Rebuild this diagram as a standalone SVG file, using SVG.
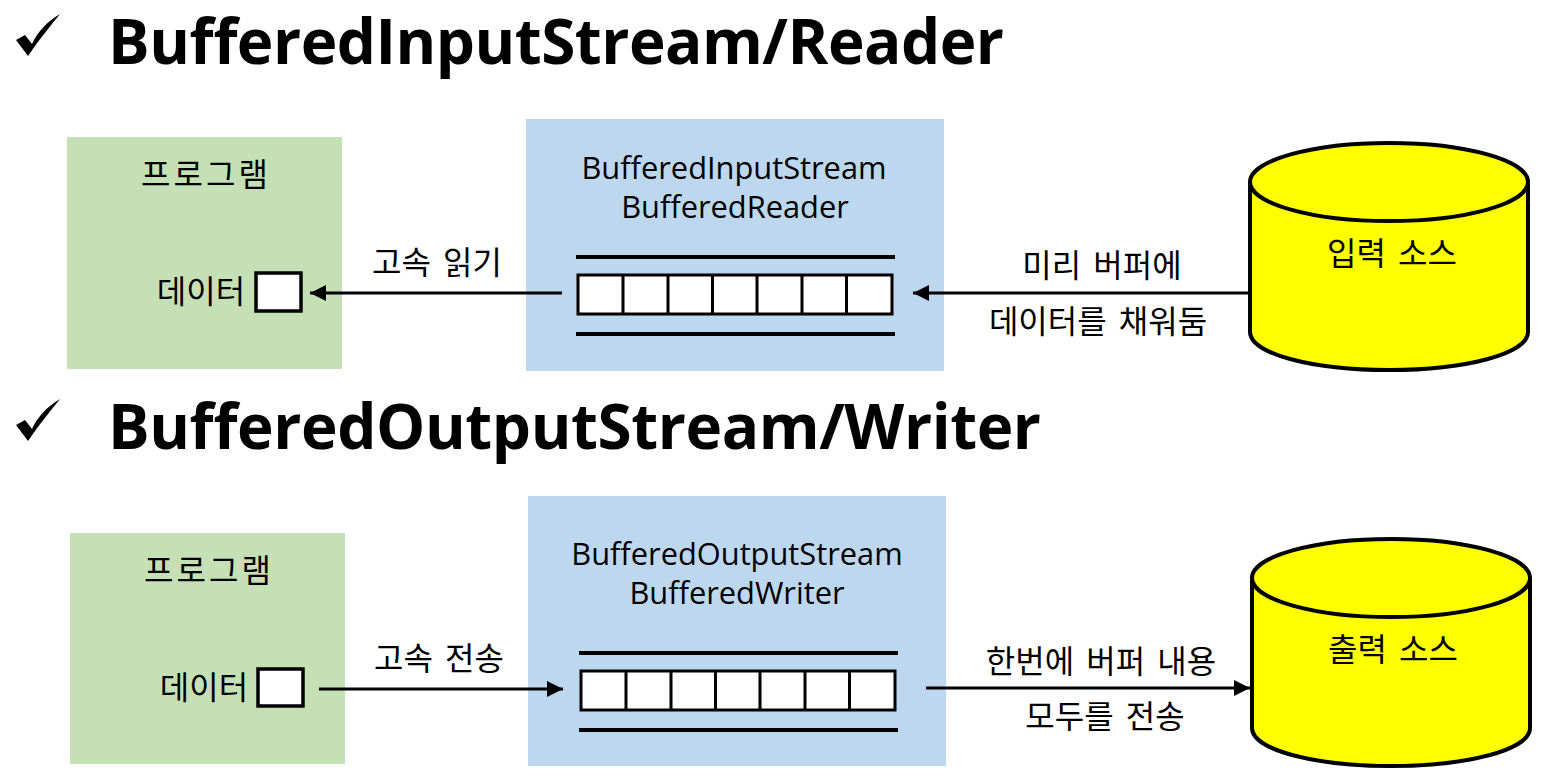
<svg xmlns="http://www.w3.org/2000/svg" width="1551" height="780" viewBox="0 0 1551 780">
<style>
text{font-family:"Open Sans","Noto Sans CJK KR","Noto Sans",sans-serif;fill:#000}
.t{font-size:62px;font-weight:700}
.l{font-size:30.8px;text-anchor:middle}
.ko{font-family:"Noto Sans CJK KR",sans-serif;font-size:32px;text-anchor:middle;word-spacing:5px}
.wide{letter-spacing:3px}
.g{fill:#c5e0b4}.b{fill:#bdd7ee}
.box{fill:#fff;stroke:#000;stroke-width:3.5}
.ln{stroke:#000;stroke-width:3;fill:none}
.hv{stroke:#000;stroke-width:4;fill:none}
.cyl{fill:#ff0;stroke:#000;stroke-width:4}
</style>
<defs>
<marker id="a" markerWidth="17" markerHeight="16" refX="16" refY="8" orient="auto" markerUnits="userSpaceOnUse"><path d="M0 0L16 8L0 16Z" fill="#000"/></marker>
<g id="buf">
<path class="hv" d="M0 0H319M0 77H319"/>
<rect class="box" x="2" y="18" width="314" height="39" style="stroke-width:3"/>
<path class="ln" d="M47 18V57M92 18V57M136.500 18V57M181 18V57M226 18V57M270.500 18V57"/>
</g>
<path id="ck" d="M60 14C52 24 41 37 28 56L16 40L25 35L32 44C38 31 47 22 60 14Z" fill="#000"/>
</defs>
<g id="title1"><use href="#ck"/><text class="t" x="108" y="64" textLength="896" lengthAdjust="spacing">BufferedInputStream/Reader</text></g>
<g id="title2"><use href="#ck" y="385"/><text class="t" x="108" y="449" textLength="933" lengthAdjust="spacing">BufferedOutputStream/Writer</text></g>
<g id="prog1"><rect class="g" x="67" y="137" width="275" height="232"/><text class="ko wide" x="206" y="186">프로그램</text><text class="ko" x="201" y="303">데이터</text><rect class="box" x="256" y="273" width="45" height="38"/></g>
<g id="buf1"><rect class="b" x="526" y="119" width="418" height="252"/><text class="l" x="734" y="179">BufferedInputStream</text><text class="l" x="735" y="218">BufferedReader</text><use href="#buf" x="576" y="257"/></g>
<g id="src1"><path class="cyl" d="M1250 182V332C1250 354 1313 370 1389 370S1528 354 1528 332V182"/><ellipse class="cyl" cx="1389" cy="182" rx="139" ry="39"/><text class="ko" x="1392" y="265">입력 소스</text></g>
<g id="prog2"><rect class="g" x="70" y="533" width="275" height="231"/><text class="ko wide" x="209" y="582">프로그램</text><text class="ko" x="204" y="699">데이터</text><rect class="box" x="258" y="669" width="45" height="37"/></g>
<g id="buf2"><rect class="b" x="528" y="496" width="418" height="270"/><text class="l" x="737" y="565">BufferedOutputStream</text><text class="l" x="737" y="604">BufferedWriter</text><use href="#buf" x="579" y="653"/></g>
<g id="src2"><path class="cyl" d="M1252 578V728C1252 750 1315 766 1391 766S1530 750 1530 728V578"/><ellipse class="cyl" cx="1391" cy="578" rx="139" ry="39"/><text class="ko" x="1393" y="661">출력 소스</text></g>
<g id="connectors">
<path class="ln" d="M562 293H310" marker-end="url(#a)"/>
<path class="ln" d="M1249 293H913" marker-end="url(#a)"/>
<path class="ln" d="M319 689H563" marker-end="url(#a)"/>
<path class="ln" d="M926 688H1250" marker-end="url(#a)"/>
<text class="ko" x="437" y="274">고속 읽기</text>
<text class="ko" x="1102" y="277">미리 버퍼에</text>
<text class="ko" x="1098" y="333">데이터를 채워둠</text>
<text class="ko" x="439" y="670">고속 전송</text>
<text class="ko" x="1101" y="673">한번에 버퍼 내용</text>
<text class="ko" x="1105" y="728">모두를 전송</text>
</g>
</svg>
